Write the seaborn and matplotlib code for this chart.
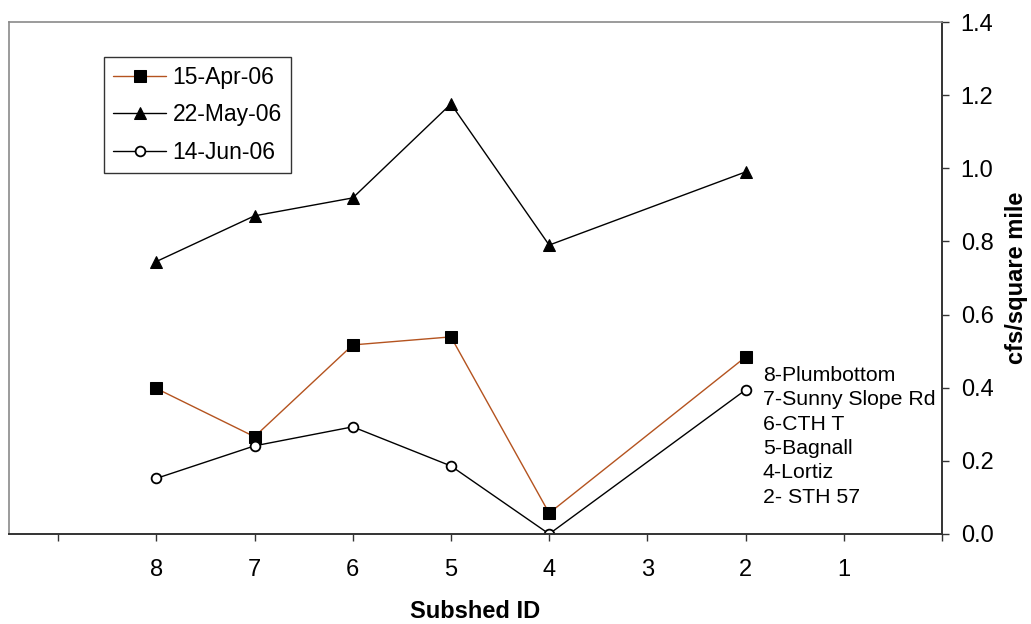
import pandas as pd
import seaborn as sns
import matplotlib.pyplot as plt

# values
subshed = [8, 7, 6, 5, 4, 2]
apr_15 = [0.398, 0.266, 0.517, 0.539, 0.057, 0.484]
may_22 = [0.745, 0.870, 0.919, 1.176, 0.790, 0.990]
jun_14 = [0.152, 0.241, 0.293, 0.186, 0.000, 0.394]
series_names = ['15-Apr-06', '22-May-06', '14-Jun-06']
site_names = ['8-Plumbottom', '7-Sunny Slope Rd', '6-CTH T', '5-Bagnall', '4-Lortiz', '2- STH 57']
x_ticks = [9, 8, 7, 6, 5, 4, 3, 2, 1, 0]
x_tick_labels = ['', '8', '7', '6', '5', '4', '3', '2', '1', '']
y_ticks = [0.0, 0.2, 0.4, 0.6, 0.8, 1.0, 1.2, 1.4]

df = pd.DataFrame({
    'subshed': subshed * 3,
    'value': apr_15 + may_22 + jun_14,
    'date': [n for n in series_names for _ in subshed],
})

sns.set_style('white')
plt.rcParams['font.family'] = ['Liberation Sans', 'DejaVu Sans']
plt.rcParams.update({'text.color': 'black', 'axes.labelcolor': 'black',
                     'xtick.color': 'black', 'ytick.color': 'black'})

fig = plt.figure(figsize=(10.31, 6.24), dpi=100)
ax = fig.add_axes([9 / 1031, 90 / 624, 933 / 1031, 512 / 624])

styles = {
    '15-Apr-06': dict(color='#B4531F', marker='s', markersize=8, markerfacecolor='black', markeredgecolor='black'),
    '22-May-06': dict(color='black', marker='^', markersize=9, markerfacecolor='black', markeredgecolor='black'),
    '14-Jun-06': dict(color='black', marker='o', markersize=7, markerfacecolor='white', markeredgecolor='black',
                      markeredgewidth=1.3),
}
for name in series_names:
    sub = df[df['date'] == name]
    sns.lineplot(data=sub, x='subshed', y='value', ax=ax, label=name, linewidth=1, sort=False,
                 **styles[name])

ax.set_xlim(9.5, 0)
ax.set_ylim(0, 1.4)
ax.set_xticks(x_ticks)
ax.set_xticklabels(x_tick_labels)
ax.set_yticks(y_ticks)
ax.set_yticklabels([f'{v:.1f}' for v in y_ticks])
ax.yaxis.tick_right()
ax.yaxis.set_label_position('right')
ax.tick_params(axis='both', direction='out', length=5, width=1, color='#333333', labelsize=17)
ax.tick_params(axis='x', bottom=True, pad=13)
ax.tick_params(axis='y', right=True, left=False, pad=8.5)

for side in ['left', 'top']:
    ax.spines[side].set_color('#8a8a8a')
    ax.spines[side].set_linewidth(1.2)
for side in ['right', 'bottom']:
    ax.spines[side].set_color('#333333')
    ax.spines[side].set_linewidth(1.4)

ax.set_xlabel('Subshed ID', fontsize=17, fontweight='bold', labelpad=14)
ax.set_ylabel('cfs/square mile', fontsize=17, fontweight='bold', labelpad=8)

for i, s in enumerate(site_names):
    ax.text(0.808, 0.31 - i * 0.0477, s, transform=ax.transAxes, fontsize=15.3, va='center', ha='left')

leg = ax.legend(loc='upper left', bbox_to_anchor=(104 / 1031, 1 - 57 / 624), bbox_transform=fig.transFigure,
                borderaxespad=0, fancybox=False, frameon=True, fontsize=16.5, handlelength=2.3,
                labelspacing=0.62, borderpad=0.4, handletextpad=0.3)
leg.get_frame().set_edgecolor('black')
leg.get_frame().set_linewidth(1)

fig.savefig('out.png', dpi=100)
